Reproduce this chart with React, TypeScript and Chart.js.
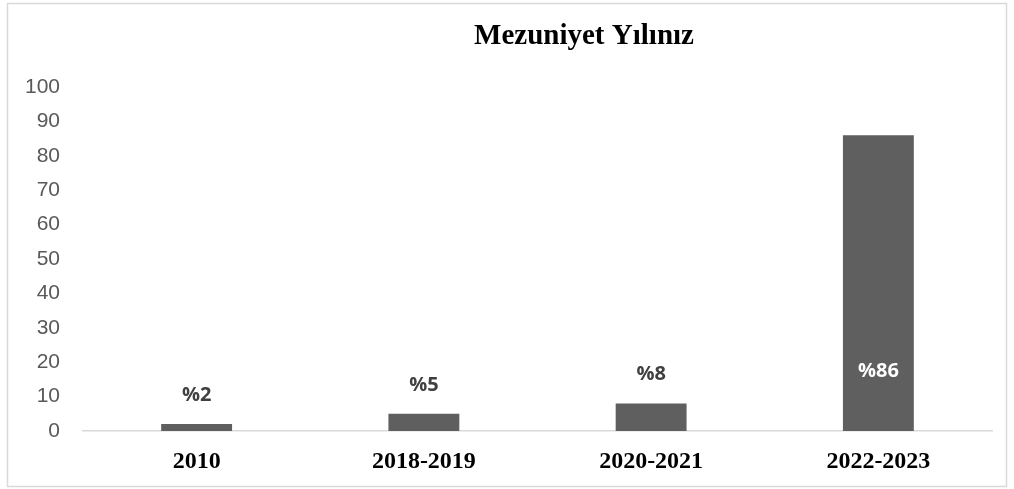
import React, { useEffect, useRef } from "react";
import { Chart, registerables } from "chart.js";

Chart.register(...registerables);

const categories = ["2010", "2018-2019", "2020-2021", "2022-2023"];
const values = [2, 5, 8, 86];
const dataLabels = ["%2", "%5", "%8", "%86"];
const titleText = "Mezuniyet Yılınız";

const decorPlugin = {
  id: "decor",
  beforeDraw(chart: any) {
    const ctx = chart.ctx;
    ctx.save();
    ctx.fillStyle = "#ffffff";
    ctx.fillRect(0, 0, chart.width, chart.height);
    ctx.strokeStyle = "#d9d9d9";
    ctx.lineWidth = 1.5;
    ctx.strokeRect(7.5, 3.5, 999, 483);
    ctx.restore();
  },
  afterDraw(chart: any) {
    const ctx = chart.ctx;
    ctx.save();
    ctx.fillStyle = "#000000";
    ctx.font = "bold 29px 'Liberation Serif', serif";
    ctx.textAlign = "center";
    ctx.textBaseline = "middle";
    ctx.fillText(titleText, 584, 37);
    const meta = chart.getDatasetMeta(0);
    ctx.font = "bold 20px 'Open Sans', sans-serif";
    meta.data.forEach((bar: any, i: number) => {
      const v = values[i];
      if (v > 50) {
        ctx.fillStyle = "#ffffff";
        ctx.fillText(dataLabels[i], bar.x, 371);
      } else {
        ctx.fillStyle = "#404040";
        ctx.fillText(dataLabels[i], bar.x, bar.y - 29);
      }
    });
    ctx.restore();
  },
};

export default function App() {
  const ref = useRef<HTMLCanvasElement | null>(null);
  useEffect(() => {
    document.body.style.margin = "0";
    const chart = new Chart(ref.current as HTMLCanvasElement, {
      type: "bar",
      data: {
        labels: categories,
        datasets: [
          {
            data: values,
            backgroundColor: "#5f5f5f",
            barPercentage: 0.312,
            categoryPercentage: 1,
          },
        ],
      },
      options: {
        animation: false,
        responsive: false,
        layout: { padding: { top: 87, left: 20, right: 22, bottom: 0 } },
        plugins: { legend: { display: false }, title: { display: false }, tooltip: { enabled: false } },
        scales: {
          x: {
            grid: { display: false },
            border: { display: true, color: "#d9d9d9", width: 1.5 },
            ticks: {
              color: "#000000",
              font: { family: "'Liberation Serif', serif", size: 24, weight: "bold" },
              padding: 8,
            },
            afterFit(scale: any) {
              scale.height = 58;
            },
          },
          y: {
            min: 0,
            max: 100,
            grid: { display: false, drawTicks: false },
            border: { display: false },
            ticks: {
              stepSize: 10,
              color: "#595959",
              font: { family: "'Liberation Sans', sans-serif", size: 21 },
              padding: 23,
            },
            afterFit(scale: any) {
              scale.width = 63;
            },
          },
        },
      },
      plugins: [decorPlugin],
    } as any);
    return () => chart.destroy();
  }, []);
  return (
    <div style={{ position: "absolute", left: 0, top: 0, width: 1014, height: 489 }}>
      <canvas ref={ref} width={1014} height={489} style={{ width: 1014, height: 489 }} />
    </div>
  );
}
